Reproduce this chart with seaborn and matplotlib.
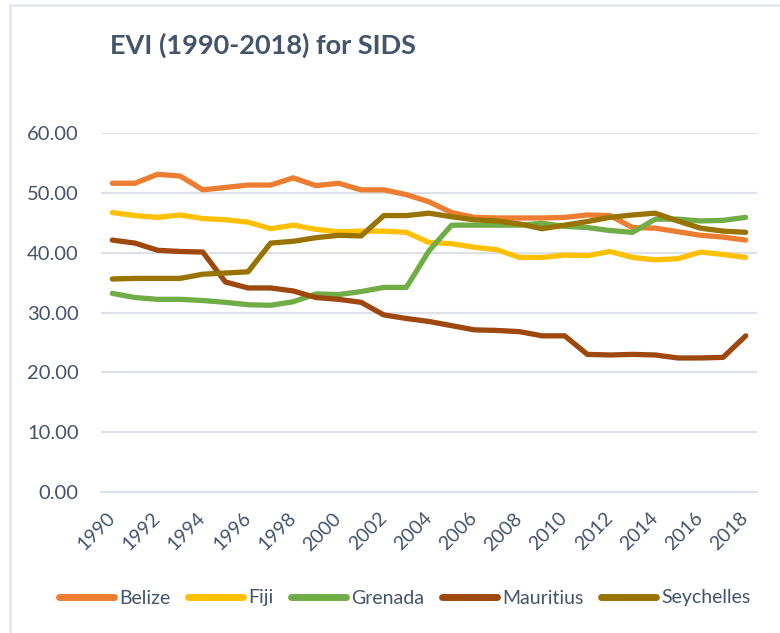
import matplotlib
matplotlib.use("Agg")
import matplotlib.pyplot as plt
import seaborn as sns
import pandas as pd
from matplotlib.patches import Rectangle
from matplotlib.ticker import FixedLocator

years = list(range(1990, 2019))
belize = [51.6, 51.6, 53.1, 52.8, 50.5, 50.9, 51.3, 51.3, 52.5, 51.2, 51.6, 50.5, 50.5, 49.7, 48.5,
          46.7, 45.9, 45.8, 45.8, 45.8, 45.9, 46.3, 46.2, 44.2, 44.1, 43.5, 42.9, 42.6, 42.1]
fiji = [46.7, 46.2, 45.9, 46.3, 45.7, 45.5, 45.1, 44.0, 44.6, 43.9, 43.5, 43.6, 43.6, 43.4, 41.7,
        41.5, 40.9, 40.5, 39.2, 39.2, 39.6, 39.5, 40.2, 39.2, 38.8, 39.0, 40.1, 39.7, 39.2]
grenada = [33.2, 32.5, 32.2, 32.2, 32.0, 31.7, 31.3, 31.2, 31.8, 33.1, 33.0, 33.5, 34.2, 34.2, 40.3,
           44.6, 44.6, 44.6, 44.6, 44.9, 44.4, 44.2, 43.7, 43.4, 45.6, 45.6, 45.3, 45.4, 45.9]
mauritius = [42.1, 41.6, 40.4, 40.2, 40.1, 35.1, 34.1, 34.1, 33.6, 32.5, 32.2, 31.7, 29.6, 29.0, 28.5,
             27.8, 27.1, 27.0, 26.8, 26.1, 26.1, 23.0, 22.9, 23.0, 22.9, 22.4, 22.4, 22.5, 26.1]
seychelles = [35.6, 35.7, 35.7, 35.7, 36.4, 36.6, 36.8, 41.6, 41.9, 42.5, 42.9, 42.8, 46.2, 46.2, 46.6,
              46.0, 45.5, 45.3, 44.8, 44.0, 44.6, 45.2, 45.9, 46.3, 46.6, 45.3, 44.1, 43.6, 43.4]
countries = ["Belize", "Fiji", "Grenada", "Mauritius", "Seychelles"]
colors = ["#ED7D31", "#FFC000", "#70AD47", "#9E480E", "#997300"]
y_ticks = [0, 10, 20, 30, 40, 50, 60]

series = [belize, fiji, grenada, mauritius, seychelles]
df = pd.DataFrame({
    "idx": list(range(len(years))) * len(countries),
    "Year": years * len(countries),
    "Country": [c for c in countries for _ in years],
    "EVI": [v for s in series for v in s],
})

sns.set_style("white")
plt.rcParams["font.family"] = ["Lato", "DejaVu Sans"]
text_col = "#44546A"
grid_col = "#DCE1EA"

fig = plt.figure(figsize=(7.8, 6.33), dpi=100)
ax = fig.add_axes([101 / 780, 1 - 492 / 633, 656 / 780, 359 / 633])

sns.lineplot(data=df, x="idx", y="EVI", hue="Country", hue_order=countries,
             palette=colors, linewidth=3.8, ax=ax, legend=False,
             solid_capstyle="round", solid_joinstyle="round")

n = len(years)
ax.set_xlim(-0.5, n - 0.5)
ax.set_ylim(0, 60)
ax.set_yticks(y_ticks)
ax.set_yticklabels([f"{v:.2f}" for v in y_ticks])
ax.yaxis.grid(True, color=grid_col, linewidth=1.6)
ax.set_axisbelow(True)
ax.set_xlabel("")
ax.set_ylabel("")

major = list(range(0, n, 2))
ax.set_xticks(major)
ax.set_xticklabels([str(years[i]) for i in major], rotation=45, ha="right", va="center",
                   rotation_mode="anchor")
ax.xaxis.set_minor_locator(FixedLocator([i - 0.5 for i in range(n + 1)]))
ax.tick_params(axis="x", which="major", length=0, pad=17, labelsize=14, labelcolor=text_col)
ax.tick_params(axis="x", which="minor", length=7, width=1.6, color=grid_col, direction="out")
ax.tick_params(axis="y", length=0, pad=16, labelsize=14.5, labelcolor=text_col)

for s in ["left", "right", "top"]:
    ax.spines[s].set_visible(False)
ax.spines["bottom"].set_color(grid_col)
ax.spines["bottom"].set_linewidth(1.6)

fig.text(110 / 780, 1 - 45 / 633, "EVI (1990-2018) for SIDS", fontsize=19.5, fontweight="bold",
         color=text_col, ha="left", va="center")

handles = [plt.Line2D([0], [0], color=c, linewidth=5, solid_capstyle="round") for c in colors]
fig.legend(handles, countries, loc="center", bbox_to_anchor=(405 / 780, 1 - 598 / 633), ncol=5,
           frameon=False, fontsize=14, handlelength=2.8, columnspacing=0.9, handletextpad=0.3,
           labelcolor=text_col)

fig.patches.append(Rectangle((10 / 780, -0.1), 1.2, 1 - 5 / 633 + 0.1, transform=fig.transFigure,
                             fill=False, edgecolor="#E3E8F0", linewidth=2, figure=fig))

fig.savefig("out.png", dpi=100)
